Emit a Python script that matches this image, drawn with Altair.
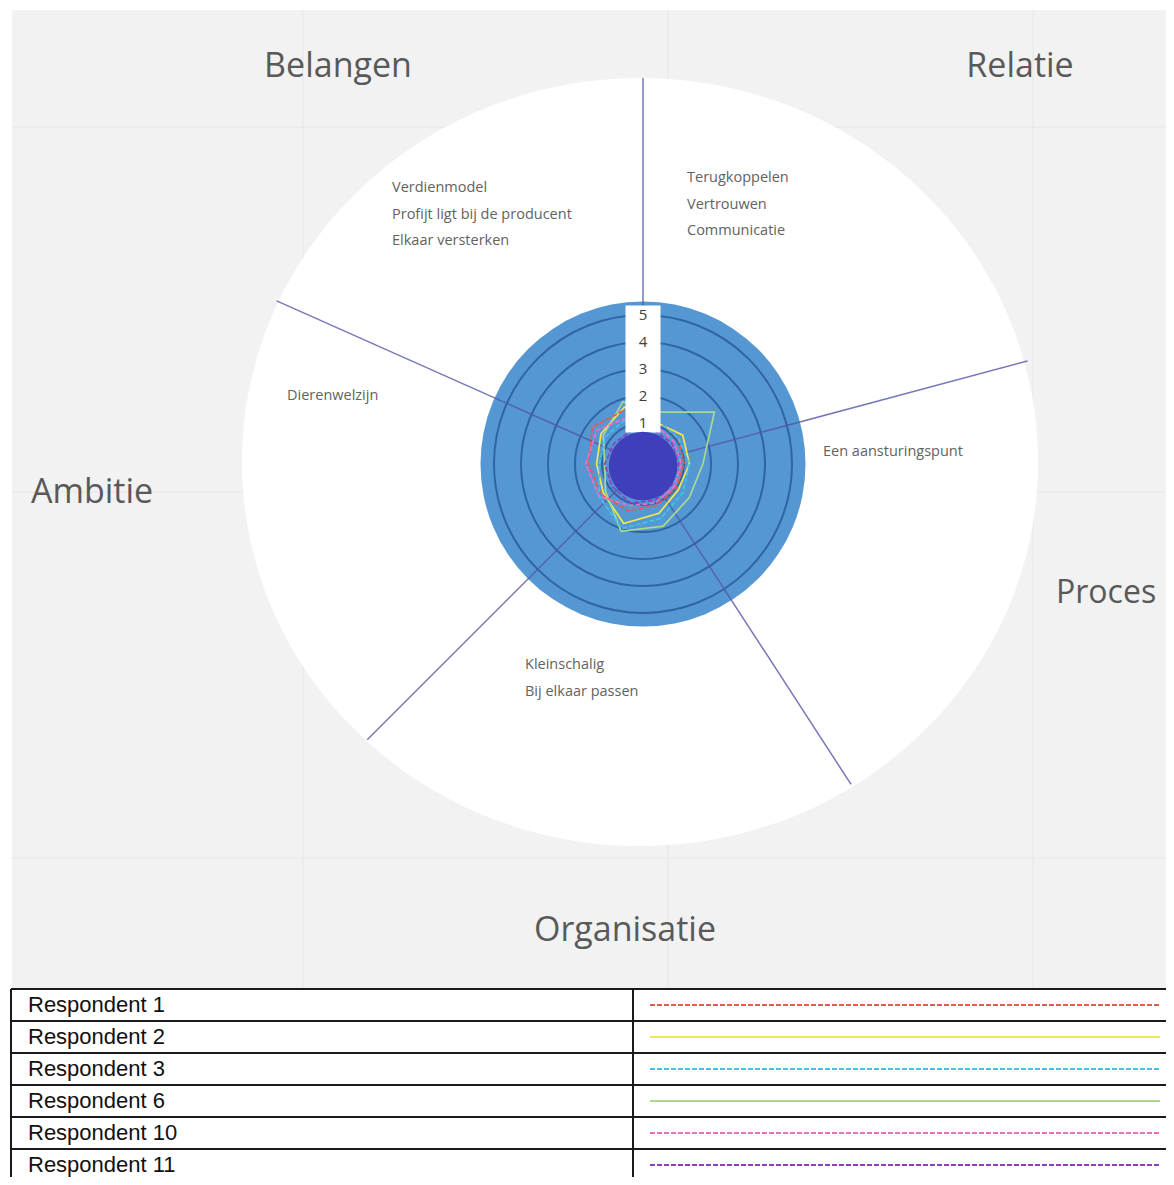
import altair as alt
import pandas as pd

# ---------------- data ----------------
RESPONDENTS = ["Respondent 1", "Respondent 2", "Respondent 3",
               "Respondent 6", "Respondent 10", "Respondent 11"]
# scores on the 10 radar axes (clockwise)
SCORES_R1 = [1.2, 1.1, 1.0, 1.0, 1.1, 1.3, 1.4, 1.5, 1.8, 1.6]
SCORES_R2 = [1.1, 1.3, 1.2, 1.1, 1.4, 1.8, 1.3, 1.2, 1.4, 1.7]
SCORES_R3 = [1.2, 1.1, 1.2, 1.3, 1.6, 2.0, 1.5, 1.1, 1.2, 1.3]
SCORES_R6 = [1.5, 2.75, 1.7, 1.6, 1.9, 2.1, 1.2, 0.9, 1.3, 1.9]
SCORES_R10 = [1.0, 0.9, 0.9, 0.9, 1.0, 1.1, 1.5, 1.6, 1.6, 1.3]
SCORES_R11 = [0.8, 0.8, 0.8, 0.8, 0.9, 1.0, 0.9, 0.9, 0.8, 0.8]
ALL_SCORES = [SCORES_R1, SCORES_R2, SCORES_R3, SCORES_R6, SCORES_R10, SCORES_R11]
CORE_VALUE = 0.75
SCALE_TICKS = [1, 2, 3, 4, 5]
SCALE_MAX = 5.5

THEMES = ["Belangen", "Relatie", "Ambitie", "Proces", "Organisatie"]
ITEMS = {
    "Belangen": ["Verdienmodel", "Profijt ligt bij de producent", "Elkaar versterken"],
    "Relatie": ["Terugkoppelen", "Vertrouwen", "Communicatie"],
    "Ambitie": ["Dierenwelzijn"],
    "Proces": ["Een aansturingspunt"],
    "Organisatie": ["Kleinschalig", "Bij elkaar passen"],
}

# ---------------- layout / style ----------------
W, H = 1158, 1169
OX, OY = 8, 8
CX, CY = 643, 464
R0, UNIT = 14, 27
AXIS_OFFSET_DEG = 18
N_AXES = 10
SPOKE_ANGLES = [0, 75, 147, 225, 294]
SPOKE_LEN = [386, 398, 382, 390, 401]
ELLIPSE_C = (640, 462)
ELLIPSE_RX = 398
ELLIPSE_PATH = "M -1 0 A 1 0.965 0 1 0 1 0 A 1 0.965 0 1 0 -1 0 Z"

THEME_POS = {"Belangen": (338, 67, "center", 34), "Relatie": (1020, 67, "center", 34),
             "Ambitie": (92, 493, "center", 34), "Proces": (1056, 593, "left", 32),
             "Organisatie": (625, 931, "center", 34)}
ITEM_POS = {"Belangen": (392, 188), "Relatie": (687, 178), "Ambitie": (287, 396),
            "Proces": (823, 452), "Organisatie": (525, 665)}
ITEM_STEP = 26.5

COLORS = ["#e65a50", "#f3e84f", "#3fc6e4", "#a9d98f", "#f06cc6", "#8d3fc0"]
DASHED = ["Respondent 1", "Respondent 3", "Respondent 10", "Respondent 11"]

TABLE_TOP, ROW_H = 989, 32
TABLE_LEFT, TABLE_RIGHT, TABLE_DIV = 11, 1174, 633
LEG_X1, LEG_X2 = 650, 1160

XS = alt.Scale(domain=[OX, OX + W], nice=False, zero=False)
YS = alt.Scale(domain=[OY, OY + H], nice=False, zero=False, reverse=True)


def X(f):
    return alt.X(f"{f}:Q", scale=XS, axis=None)


def Y(f):
    return alt.Y(f"{f}:Q", scale=YS, axis=None)


layers = []

# background
bg = pd.DataFrame({"x": [12], "x2": [1174], "y": [10], "y2": [988]})
layers.append(alt.Chart(bg).mark_rect(color="#f2f2f2").encode(
    x=X("x"), x2=alt.X2("x2"), y=Y("y"), y2=alt.Y2("y2")))

gv = pd.DataFrame({"x": [303, 668, 1033], "y": [10] * 3, "y2": [988] * 3})
layers.append(alt.Chart(gv).mark_rule(color="#eaeaea", strokeWidth=1.5).encode(
    x=X("x"), y=Y("y"), y2=alt.Y2("y2")))
gh = pd.DataFrame({"y": [127, 492, 858], "x": [12] * 3, "x2": [1174] * 3})
layers.append(alt.Chart(gh).mark_rule(color="#eaeaea", strokeWidth=1.5).encode(
    x=X("x"), x2=alt.X2("x2"), y=Y("y")))

# white ellipse
ell = pd.DataFrame({"x": [ELLIPSE_C[0]], "y": [ELLIPSE_C[1]], "sz": [(2 * ELLIPSE_RX) ** 2]})
layers.append(alt.Chart(ell).mark_point(shape=ELLIPSE_PATH, filled=True, fill="white",
                                        strokeWidth=0, opacity=1).encode(
    x=X("x"), y=Y("y"), size=alt.Size("sz:Q", scale=None, legend=None)))

# blue disc
disc = pd.DataFrame({"v": [SCALE_MAX]})
layers.append(alt.Chart(disc).transform_calculate(
    x=f"{CX}", y=f"{CY}", sz=f"pow(2*({R0}+{UNIT}*datum.v),2)"
).mark_point(shape="circle", filled=True, fill="#5597d3", strokeWidth=0, opacity=1).encode(
    x=X("x"), y=Y("y"), size=alt.Size("sz:Q", scale=None, legend=None)))

# rings
rings = pd.DataFrame({"v": SCALE_TICKS})
layers.append(alt.Chart(rings).transform_calculate(
    x=f"{CX}", y=f"{CY}", sz=f"pow(2*({R0}+{UNIT}*datum.v),2)"
).mark_point(shape="circle", filled=False, stroke="#2f64a6", strokeWidth=2, opacity=1).encode(
    x=X("x"), y=Y("y"), size=alt.Size("sz:Q", scale=None, legend=None)))

# spokes
sp = pd.DataFrame({"a": SPOKE_ANGLES, "L": SPOKE_LEN})
layers.append(alt.Chart(sp).transform_calculate(
    x=f"{CX}", y=f"{CY}",
    x2=f"{CX} + datum.L*sin(datum.a*PI/180)",
    y2=f"{CY} - datum.L*cos(datum.a*PI/180)"
).mark_rule(color="#5555a8", strokeWidth=1.5, opacity=0.8).encode(
    x=X("x"), y=Y("y"), x2=alt.X2("x2"), y2=alt.Y2("y2")))

# radar polygons
rows = []
for name, sc in zip(RESPONDENTS, ALL_SCORES):
    for k in range(N_AXES + 1):
        rows.append({"respondent": name, "k": k, "value": sc[k % N_AXES]})
radar = pd.DataFrame(rows)
radar_base = alt.Chart(radar).transform_calculate(
    ang=f"({AXIS_OFFSET_DEG} + {360 / N_AXES}*datum.k)*PI/180",
    rr=f"{R0} + {UNIT}*datum.value",
    px=f"{CX} + datum.rr*sin(datum.ang)",
    py=f"{CY} - datum.rr*cos(datum.ang)",
)
cscale = alt.Scale(domain=RESPONDENTS, range=COLORS)
enc_r = dict(x=X("px"), y=Y("py"), order="k:Q",
             color=alt.Color("respondent:N", scale=cscale, legend=None))
layers.append(radar_base.transform_filter(
    {"not": alt.FieldOneOfPredicate(field="respondent", oneOf=DASHED)}
).mark_line(strokeWidth=1.7).encode(**enc_r))
layers.append(radar_base.transform_filter(
    alt.FieldOneOfPredicate(field="respondent", oneOf=DASHED)
).mark_line(strokeWidth=1.7, strokeDash=[5, 2]).encode(**enc_r))

# label bar
bar = pd.DataFrame({"lo": [0.65], "hi": [5.35]})
layers.append(alt.Chart(bar).transform_calculate(
    x=f"{CX - 17.5}", x2=f"{CX + 17.5}",
    y=f"{CY} - ({R0}+{UNIT}*datum.hi)", y2=f"{CY} - ({R0}+{UNIT}*datum.lo)"
).mark_rect(color="white").encode(x=X("x"), x2=alt.X2("x2"), y=Y("y"), y2=alt.Y2("y2")))

ticks = pd.DataFrame({"v": SCALE_TICKS})
layers.append(alt.Chart(ticks).transform_calculate(
    x=f"{CX}", y=f"{CY} - ({R0}+{UNIT}*datum.v)", t="toString(datum.v)"
).mark_text(font="Open Sans", fontSize=15, color="#404040", baseline="middle").encode(
    x=X("x"), y=Y("y"), text="t:N"))

# dark core
core = pd.DataFrame({"v": [CORE_VALUE]})
layers.append(alt.Chart(core).transform_calculate(
    x=f"{CX}", y=f"{CY + 2}", sz=f"pow(2*({R0}+{UNIT}*datum.v),2)"
).mark_point(shape="circle", filled=True, fill="#3f3fbc", strokeWidth=0, opacity=1).encode(
    x=X("x"), y=Y("y"), size=alt.Size("sz:Q", scale=None, legend=None)))

# theme labels
tl = pd.DataFrame([{"text": t, "x": THEME_POS[t][0], "y": THEME_POS[t][1],
                    "al": THEME_POS[t][2], "fs": THEME_POS[t][3]} for t in THEMES])
for al in ["center", "left"]:
    layers.append(alt.Chart(tl[tl.al == al]).mark_text(
        font="Open Sans", color="#595959", align=al, baseline="middle").encode(
        x=X("x"), y=Y("y"), text="text:N", size=alt.Size("fs:Q", scale=None, legend=None)))

# item labels
il = []
for t in THEMES:
    x0, y0 = ITEM_POS[t]
    for i, s in enumerate(ITEMS[t]):
        il.append({"text": s, "x": x0, "y": y0 + i * ITEM_STEP})
il = pd.DataFrame(il)
layers.append(alt.Chart(il).mark_text(
    font="Open Sans", fontSize=14.5, color="#626262", align="left", baseline="middle").encode(
    x=X("x"), y=Y("y"), text="text:N"))

# table
tb = pd.DataFrame({"respondent": RESPONDENTS, "i": list(range(len(RESPONDENTS)))})
tbase = alt.Chart(tb).transform_calculate(
    ym=f"{TABLE_TOP} + {ROW_H}*datum.i + {ROW_H / 2}")
layers.append(alt.Chart(pd.DataFrame({"i": list(range(len(RESPONDENTS) + 1))})).transform_calculate(
    y=f"{TABLE_TOP} + {ROW_H}*datum.i", x=f"{TABLE_LEFT}", x2=f"{TABLE_RIGHT}"
).mark_rule(color="#1a1a1a", strokeWidth=2).encode(x=X("x"), x2=alt.X2("x2"), y=Y("y")))
vl = pd.DataFrame({"x": [TABLE_LEFT, TABLE_DIV]})
layers.append(alt.Chart(vl).transform_calculate(
    y=f"{TABLE_TOP}", y2=f"{TABLE_TOP + ROW_H * len(RESPONDENTS)}"
).mark_rule(color="#1a1a1a", strokeWidth=2).encode(x=X("x"), y=Y("y"), y2=alt.Y2("y2")))
layers.append(tbase.transform_calculate(x=f"{28}").mark_text(
    font="Liberation Sans", fontSize=22, color="#111111", align="left", baseline="middle").encode(
    x=X("x"), y=Y("ym"), text="respondent:N"))
leg_base = tbase.transform_calculate(x=f"{LEG_X1}", x2=f"{LEG_X2}")
enc_l = dict(x=X("x"), x2=alt.X2("x2"), y=Y("ym"),
             color=alt.Color("respondent:N", scale=cscale, legend=None))
layers.append(leg_base.transform_filter(
    {"not": alt.FieldOneOfPredicate(field="respondent", oneOf=DASHED)}
).mark_rule(strokeWidth=1.8).encode(**enc_l))
layers.append(leg_base.transform_filter(
    alt.FieldOneOfPredicate(field="respondent", oneOf=DASHED)
).mark_rule(strokeWidth=1.8, strokeDash=[5, 2]).encode(**enc_l))

chart = alt.layer(*layers).properties(
    width=W, height=H, padding=0, autosize=alt.AutoSizeParams(type="none"),
    background="white"
).configure_view(stroke=None)

chart.save("out.html", embed_options={"renderer": "svg", "actions": False})
